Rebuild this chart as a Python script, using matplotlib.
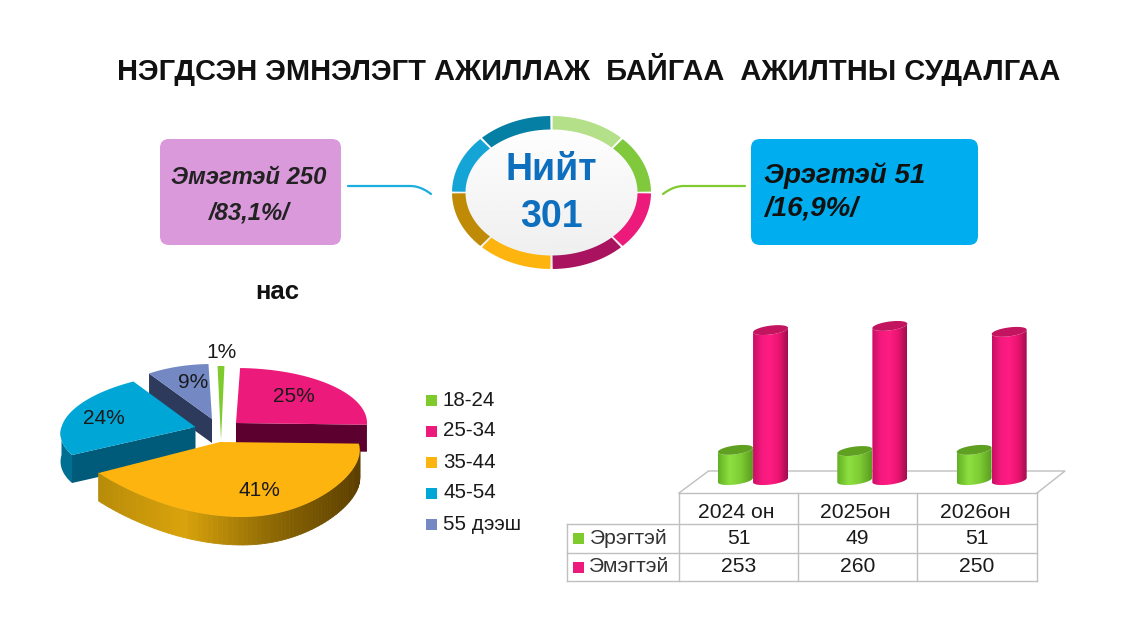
import numpy as np
import matplotlib
matplotlib.use("Agg")
import matplotlib.pyplot as plt
from matplotlib.patches import Ellipse, FancyBboxPatch, Polygon, Rectangle
from matplotlib.colors import LinearSegmentedColormap

plt.rcParams['font.family'] = ['Liberation Sans', 'DejaVu Sans']

# data
title = "НЭГДСЭН ЭМНЭЛЭГТ АЖИЛЛАЖ  БАЙГАА  АЖИЛТНЫ СУДАЛГАА"
total_label = "Нийт"
total_value = 301
age_groups = ["18-24", "25-34", "35-44", "45-54", "55 дээш"]
age_shares = [1, 25, 41, 24, 9]
years = ["2024 он", "2025он", "2026он"]
men = [51, 49, 51]
women = [253, 260, 250]

GREEN = "#7FCB2E"
PINK = "#EC1A7A"
AMBER = "#FDB40F"
BLUE = "#00A6D6"
SLATE = "#7488C4"
age_colors = [GREEN, PINK, AMBER, BLUE, SLATE]

W, H = 1137, 640
fig = plt.figure(figsize=(W / 100, H / 100), dpi=100)
ax = fig.add_axes([0, 0, 1, 1])
ax.set_xlim(0, W)
ax.set_ylim(H, 0)
ax.axis("off")

ax.text(589, 70, title, ha="center", va="center", fontsize=20.9, fontweight="bold", color="#111111")

# boxes on both sides of the ring
ax.add_patch(FancyBboxPatch((167, 146), 167, 92, boxstyle="round,pad=7,rounding_size=9", fc="#D999DB", ec="none"))
ax.add_patch(FancyBboxPatch((758, 146), 213, 92, boxstyle="round,pad=7,rounding_size=9", fc="#00AEEF", ec="none"))
ax.text(249, 177, "Эмэгтэй 250", ha="center", va="center", fontsize=17.2, fontweight="bold", fontstyle="italic", color="#222222")
ax.text(249, 213, "/83,1%/", ha="center", va="center", fontsize=17.2, fontweight="bold", fontstyle="italic", color="#222222")
ax.text(764, 176, "Эрэгтэй 51", ha="left", va="center", fontsize=20, fontweight="bold", fontstyle="italic", color="#111111")
ax.text(764, 208, "/16,9%/", ha="left", va="center", fontsize=20, fontweight="bold", fontstyle="italic", color="#111111")

# connectors
t = np.linspace(0, 1, 20)
ax.plot(np.r_[348, 410 + 21 * t], np.r_[186, 186 + 8 * t ** 2], color="#1AAEE0", lw=1.6, solid_capstyle="round")
ax.plot(np.r_[663 + 21 * t, 745], np.r_[194 - 8 * (1 - (1 - t) ** 2), 186], color="#7FCB2E", lw=1.6, solid_capstyle="round")

# ring
ring_colors = ["#B5E08A", "#80C83C", "#EC1A7A", "#A8125F", "#FDB40F", "#BF8A06", "#14A5D6", "#0580A4"]
cx, cy = 551.5, 192.5
disc = ax.imshow(np.linspace(1, 0.93, 100)[:, None], extent=(451, 652, 269, 116), cmap="gray", vmin=0, vmax=1, aspect="auto", zorder=2)
disc.set_clip_path(Ellipse((cx, cy), 196, 150, transform=ax.transData))
for i, c in enumerate(ring_colors):
    a = np.radians(np.linspace(-90 + 45 * i + 0.7, -45 + 45 * i - 0.7, 30))
    xs = np.r_[cx + 99.5 * np.cos(a), cx + 86 * np.cos(a[::-1])]
    ys = np.r_[cy + 76.5 * np.sin(a), cy + 63 * np.sin(a[::-1])]
    ax.fill(xs, ys, color=c, lw=0, zorder=3)
ax.text(cx, 170, total_label, ha="center", va="center", fontsize=27, fontweight="bold", color="#0F6FBF", zorder=4)
ax.text(cx, 217, str(total_value), ha="center", va="center", fontsize=27, fontweight="bold", color="#0F6FBF", zorder=4)

# pie, drawn by hand because of the exploded 3d look
ax.text(277, 292, "нас", ha="center", va="center", fontsize=18.5, fontweight="bold", color="#111111")


def arc(c, a0, a1, n=80):
    t = np.radians(np.linspace(a0, a1, n))
    s, co = np.sin(t), np.cos(t)
    rx = np.where(co > 0, c["rx"], c.get("rxl", c["rx"]))
    return c["x"] + rx * co + c.get("skew", 0) * s, c["y"] + c["ry"] * s / (1 - c["k"] * s)


pose = [
    dict(x=221, y=440, rx=110, ry=74, k=0, side=None),
    dict(x=236, y=423, rx=131, ry=55, k=0, side="#5C0030"),
    dict(x=220, y=442, rx=138, rxl=154, skew=22, ry=51, k=0.32, side="#7A5600"),
    dict(x=195.5, y=427, rx=134, skew=-16, ry=55, k=0, side="#005A7A"),
    dict(x=212, y=419, rx=112, ry=55, k=0, side="#2E3A5C"),
]
depth = [0, 27, 28, 28, 24]
edges = -91.8 + np.r_[0, np.cumsum(age_shares)] * 3.6
rim_cmap = LinearSegmentedColormap.from_list("rim", ["#B88B08", "#D9A30C", "#8F6A04", "#5C3F00"])

for i in [4, 3, 1, 0, 2]:
    c, d, a0, a1 = pose[i], depth[i], edges[i], edges[i + 1]
    xs, ys = arc(c, a0, a1)
    if i == 4:
        ax.fill([c["x"], xs[0], xs[0], c["x"]], [c["y"], ys[0], ys[0] + d, c["y"] + d], color=c["side"], lw=0)
    if i == 3:
        fx, fy = arc(c, a0, 180)
        ax.fill(np.r_[fx, fx[::-1]], np.r_[fy, fy[::-1] + d], color="#006F92", lw=0)
        ax.fill([c["x"], xs[0], xs[0], c["x"]], [c["y"], ys[0], ys[0] + d, c["y"] + d], color=c["side"], lw=0)
    if i == 1:
        ax.fill([c["x"], xs[-1], xs[-1], c["x"]], [c["y"], ys[-1], ys[-1] + d, c["y"] + d], color=c["side"], lw=0)
    if i == 2:
        for j in range(len(xs) - 1):
            shade = rim_cmap((xs[j] - xs.min()) / (xs.max() - xs.min()))
            ax.fill([xs[j], xs[j + 1], xs[j + 1], xs[j]], [ys[j], ys[j + 1], ys[j + 1] + d, ys[j] + d], color=shade, lw=0.6)
    ax.fill(np.r_[c["x"], xs], np.r_[c["y"], ys], color=age_colors[i], lw=0)

label_pos = [(221, 352), (294, 397), (259, 491), (104, 419), (193, 383)]
for share, (x, y) in zip(age_shares, label_pos):
    ax.text(x, y, f"{share}%", ha="center", va="center", fontsize=15, color="#1A1A1A")

for i, (name, c) in enumerate(zip(age_groups, age_colors)):
    y = 400 + i * 31
    ax.add_patch(Rectangle((426, y - 5.5), 11, 11, fc=c, ec="none"))
    ax.text(443, y, name, ha="left", va="center", fontsize=14.8, color="#1A1A1A")

# table under the bars
grid = "#BFBFBF"
col_x = [679, 798, 917, 1037]
row_y = [493, 524, 553, 581]
ax.plot([679, 708.5, 1065, 1037], [493, 471, 471, 493], color=grid, lw=1)
ax.plot([679, 1037], [493, 493], color=grid, lw=1)
for x in col_x:
    ax.plot([x, x], [row_y[0], row_y[-1]], color=grid, lw=1)
ax.plot([567, 567], [row_y[1], row_y[-1]], color=grid, lw=1)
for y in row_y[1:]:
    ax.plot([567, 1037], [y, y], color=grid, lw=1)

for j, year in enumerate(years):
    xc = (col_x[j] + col_x[j + 1]) / 2
    ax.text(xc - 2, 512, year, ha="center", va="center", fontsize=15.2, color="#1A1A1A")
    ax.text(xc, 539, str(men[j]), ha="center", va="center", fontsize=15.2, color="#1A1A1A")
    ax.text(xc, 567, str(women[j]), ha="center", va="center", fontsize=15.2, color="#1A1A1A")

ax.add_patch(Rectangle((573, 533), 11, 11, fc=GREEN, ec="none"))
ax.add_patch(Rectangle((573, 562), 11, 11, fc=PINK, ec="none"))
ax.text(590, 538.5, "Эрэгтэй", ha="left", va="center", fontsize=15.2, color="#333333")
ax.text(589, 567, "Эмэгтэй", ha="left", va="center", fontsize=15.2, color="#333333")

# cylinders get their own axes so heights go through a real y scale
bx = fig.add_axes([679 / W, 1 - 489 / H, 358 / W, 169 / H])
bar_w = 0.293
cap_h = 15
tilt_k = 25


def cylinder(xc, value, colors, top, z):
    cmap = LinearSegmentedColormap.from_list("cyl", colors)
    left, right = xc - bar_w / 2, xc + bar_w / 2
    t = np.radians(np.linspace(180, 360, 40))
    xs = xc + bar_w / 2 * np.cos(t)
    ys = cap_h / 2 * np.sin(t)
    tilt = (xs - xc) * tilt_k
    body = Polygon(np.c_[np.r_[xs, xs[::-1]], np.r_[ys + tilt, ys[::-1] + tilt[::-1] + value]], closed=True, transform=bx.transData)
    im = bx.imshow(np.linspace(0, 1, 64)[None, :], extent=(left, right, -15, value + 15), cmap=cmap, aspect="auto", zorder=z)
    im.set_clip_path(body)
    t = np.radians(np.linspace(0, 360, 80))
    xs = xc + bar_w / 2 * np.cos(t)
    tilt = (xs - xc) * tilt_k
    bx.fill(xs, value + cap_h / 2 * np.sin(t) + tilt, color=top, lw=0, zorder=z + 0.5, clip_on=False)


for i in range(len(years)):
    cylinder(i + 0.473, men[i], ["#62B024", "#8EE040", "#7CCB34", "#5B9C1F"], "#5FA021", 3)
    cylinder(i + 0.767, women[i], ["#C80F64", "#F51A7E", "#FF1C82", "#E8156F", "#A30C50"], "#C2145F", 4)
bx.set_xlim(0, 3)
bx.set_ylim(-15, 270)
bx.axis("off")

fig.savefig("out.png", dpi=100)
